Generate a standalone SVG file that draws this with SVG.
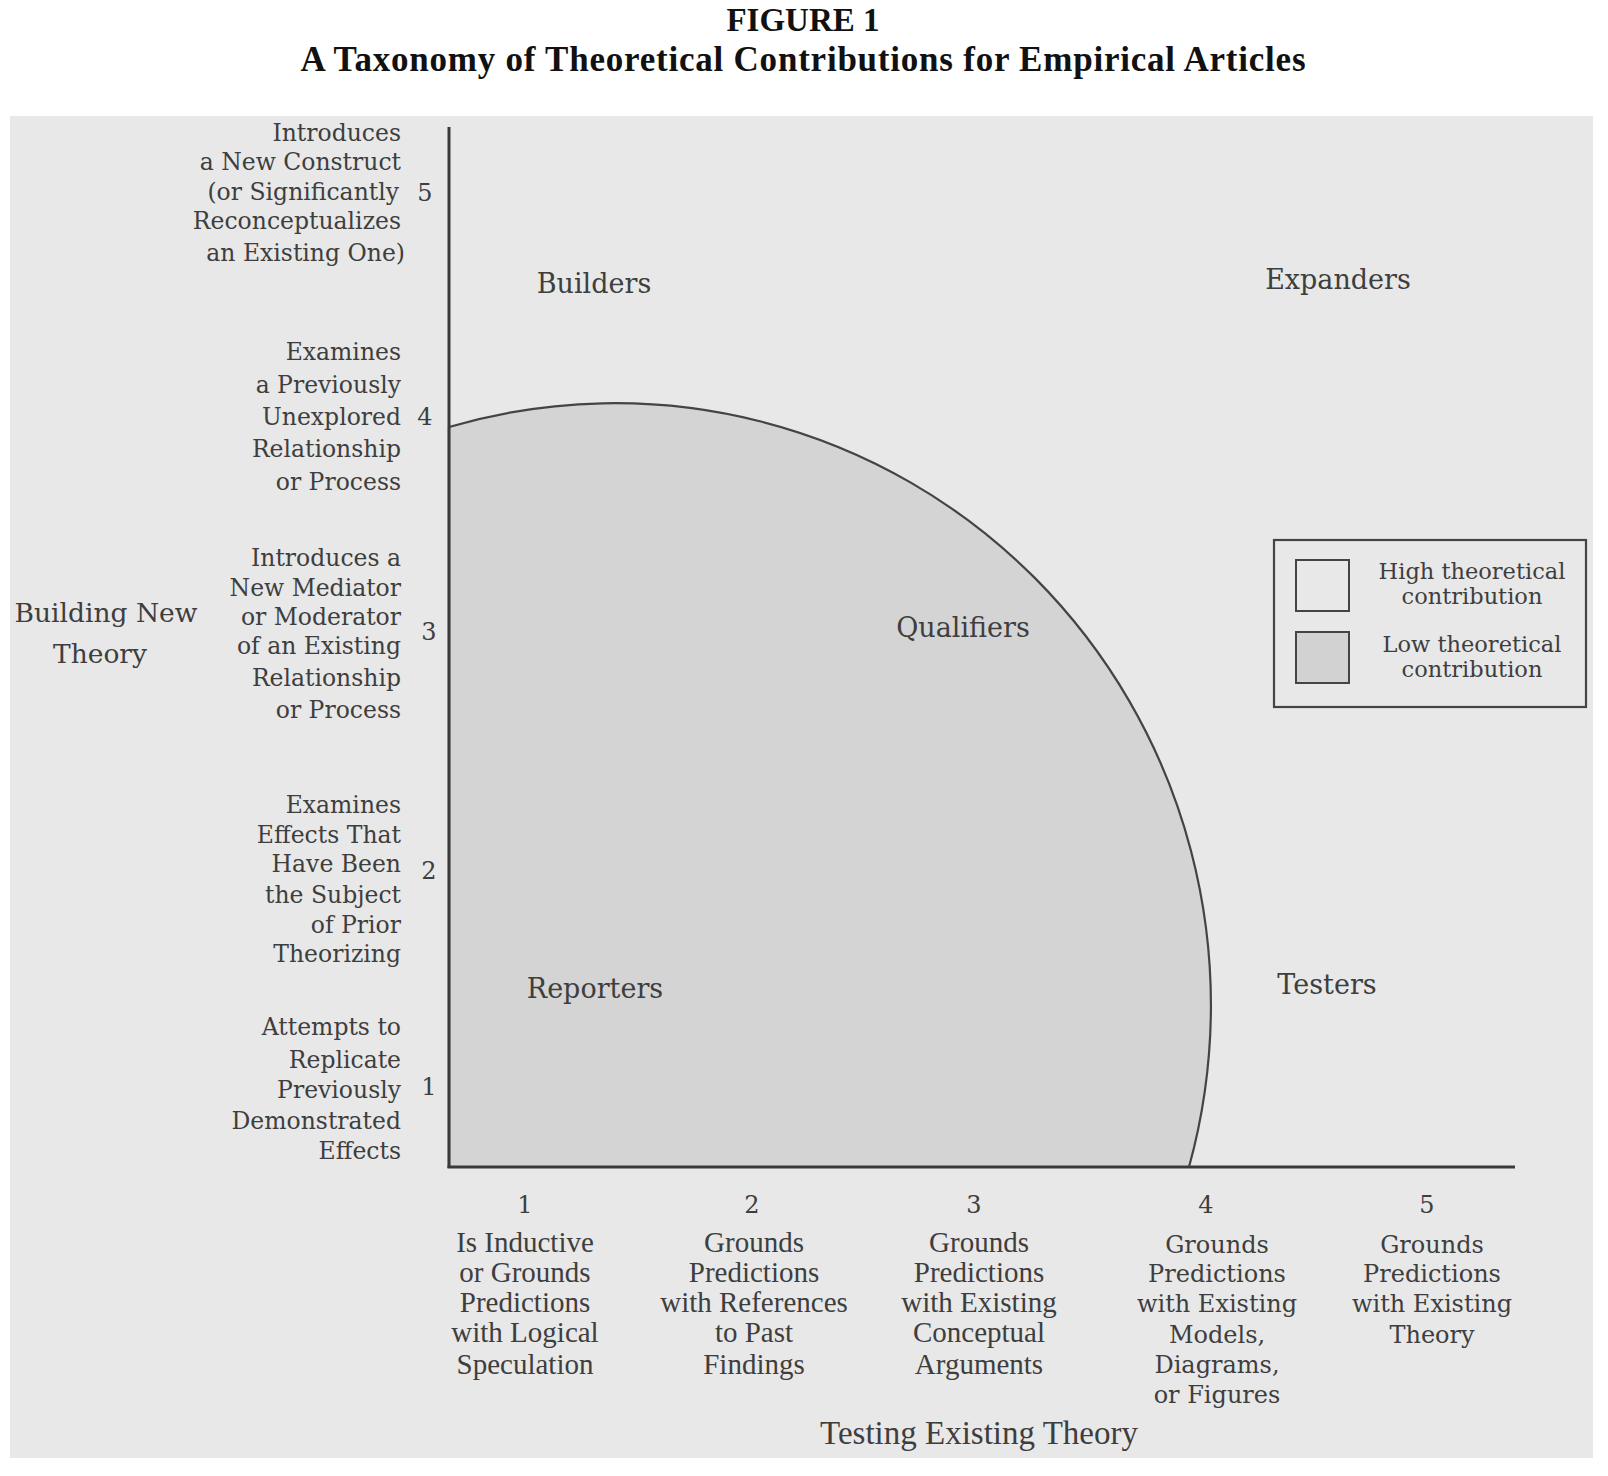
<svg xmlns="http://www.w3.org/2000/svg" width="1608" height="1476" viewBox="0 0 1608 1476">
<style>
.title{font-family:"Liberation Serif","Times New Roman",serif;font-weight:bold;fill:#111;text-anchor:middle}
.yl{font-family:"DejaVu Serif",serif;font-size:23.5px;fill:#3e3e3e;text-anchor:end}
.num{font-family:"DejaVu Serif",serif;font-size:24px;fill:#3e3e3e;text-anchor:middle}
.xc{font-family:"Liberation Serif","Times New Roman",serif;font-size:29px;fill:#3e3e3e;text-anchor:middle}
.xw{font-family:"DejaVu Serif",serif;font-size:24px;fill:#3e3e3e;text-anchor:middle}
.reg{font-family:"DejaVu Serif",serif;font-size:27px;fill:#3e3e3e;text-anchor:middle}
.big{font-family:"DejaVu Serif",serif;font-size:26.5px;fill:#3e3e3e;text-anchor:middle}
.axt{font-family:"Liberation Serif","Times New Roman",serif;font-size:33px;fill:#3e3e3e;text-anchor:middle}
.leg{font-family:"DejaVu Serif",serif;font-size:22.5px;fill:#3e3e3e;text-anchor:middle}
.ax{stroke:#3a3a3a;stroke-width:3;fill:none}
</style>
<rect x="0" y="0" width="1608" height="1476" fill="#ffffff"/>
<rect x="10" y="116" width="1583" height="1342" fill="#e8e8e8"/>

<g id="title">
<text class="title" x="803" y="31" font-size="33">FIGURE 1</text>
<text class="title" x="803" y="71" font-size="35" textLength="1005" lengthAdjust="spacing">A Taxonomy of Theoretical Contributions for Empirical Articles</text>
</g>

<g id="low-region">
<path d="M449,427 A596,602 0 0 1 1189,1167 L449,1167 Z" fill="#d4d4d4" stroke="#444" stroke-width="2.2"/>
</g>

<g id="connectors">
<line class="ax" x1="449" y1="127" x2="449" y2="1168"/>
<line class="ax" x1="447.5" y1="1167" x2="1515" y2="1167"/>
</g>

<g id="y-axis-title">
<text class="big" x="106" y="622">Building New</text>
<text class="big" x="100" y="663">Theory</text>
</g>

<g id="y5">
<text class="num" x="425" y="201">5</text>
<text class="yl" x="401" y="141">Introduces</text>
<text class="yl" x="401" y="170">a New Construct</text>
<text class="yl" x="399" y="200">(or Significantly</text>
<text class="yl" x="401" y="229">Reconceptualizes</text>
<text class="yl" x="405" y="261">an Existing One)</text>
</g>
<g id="y4">
<text class="num" x="425" y="425">4</text>
<text class="yl" x="401" y="360">Examines</text>
<text class="yl" x="401" y="393">a Previously</text>
<text class="yl" x="401" y="425">Unexplored</text>
<text class="yl" x="401" y="457">Relationship</text>
<text class="yl" x="401" y="490">or Process</text>
</g>
<g id="y3">
<text class="num" x="429" y="640">3</text>
<text class="yl" x="401" y="566">Introduces a</text>
<text class="yl" x="401" y="596">New Mediator</text>
<text class="yl" x="401" y="625">or Moderator</text>
<text class="yl" x="401" y="654">of an Existing</text>
<text class="yl" x="401" y="686">Relationship</text>
<text class="yl" x="401" y="718">or Process</text>
</g>
<g id="y2">
<text class="num" x="429" y="879">2</text>
<text class="yl" x="401" y="813">Examines</text>
<text class="yl" x="401" y="843">Effects That</text>
<text class="yl" x="401" y="872">Have Been</text>
<text class="yl" x="401" y="903">the Subject</text>
<text class="yl" x="401" y="933">of Prior</text>
<text class="yl" x="401" y="962">Theorizing</text>
</g>
<g id="y1">
<text class="num" x="429" y="1095">1</text>
<text class="yl" x="401" y="1035">Attempts to</text>
<text class="yl" x="401" y="1068">Replicate</text>
<text class="yl" x="401" y="1098">Previously</text>
<text class="yl" x="401" y="1129">Demonstrated</text>
<text class="yl" x="401" y="1159">Effects</text>
</g>

<g id="x1">
<text class="num" x="525" y="1213">1</text>
<text class="xc" x="525" y="1252">Is Inductive</text>
<text class="xc" x="525" y="1282">or Grounds</text>
<text class="xc" x="525" y="1312">Predictions</text>
<text class="xc" x="525" y="1342">with Logical</text>
<text class="xc" x="525" y="1374">Speculation</text>
</g>
<g id="x2">
<text class="num" x="752" y="1213">2</text>
<text class="xc" x="754" y="1252">Grounds</text>
<text class="xc" x="754" y="1282">Predictions</text>
<text class="xc" x="754" y="1312">with References</text>
<text class="xc" x="754" y="1342">to Past</text>
<text class="xc" x="754" y="1374">Findings</text>
</g>
<g id="x3">
<text class="num" x="974" y="1213">3</text>
<text class="xc" x="979" y="1252">Grounds</text>
<text class="xc" x="979" y="1282">Predictions</text>
<text class="xc" x="979" y="1312">with Existing</text>
<text class="xc" x="979" y="1342">Conceptual</text>
<text class="xc" x="979" y="1374">Arguments</text>
</g>
<g id="x4">
<text class="num" x="1206" y="1213">4</text>
<text class="xw" x="1217" y="1253">Grounds</text>
<text class="xw" x="1217" y="1282">Predictions</text>
<text class="xw" x="1217" y="1312">with Existing</text>
<text class="xw" x="1217" y="1343">Models,</text>
<text class="xw" x="1217" y="1373">Diagrams,</text>
<text class="xw" x="1217" y="1403">or Figures</text>
</g>
<g id="x5">
<text class="num" x="1427" y="1213">5</text>
<text class="xw" x="1432" y="1253">Grounds</text>
<text class="xw" x="1432" y="1282">Predictions</text>
<text class="xw" x="1432" y="1312">with Existing</text>
<text class="xw" x="1432" y="1343">Theory</text>
</g>
<g id="x-axis-title">
<text class="axt" x="979" y="1444">Testing Existing Theory</text>
</g>

<g id="builders"><text class="reg" x="594" y="293">Builders</text></g>
<g id="expanders"><text class="reg" x="1338" y="289">Expanders</text></g>
<g id="qualifiers"><text class="reg" x="963" y="637">Qualifiers</text></g>
<g id="reporters"><text class="reg" x="595" y="998">Reporters</text></g>
<g id="testers"><text class="reg" x="1327" y="994">Testers</text></g>

<g id="legend">
<rect x="1274" y="540" width="312" height="167" fill="none" stroke="#444" stroke-width="2.2"/>
<rect x="1296" y="560" width="53" height="51" fill="#e8e8e8" stroke="#444" stroke-width="2"/>
<rect x="1296" y="632" width="53" height="51" fill="#d2d2d2" stroke="#444" stroke-width="2"/>
<text class="leg" x="1472" y="579">High theoretical</text>
<text class="leg" x="1472" y="604">contribution</text>
<text class="leg" x="1472" y="652">Low theoretical</text>
<text class="leg" x="1472" y="677">contribution</text>
</g>
</svg>
